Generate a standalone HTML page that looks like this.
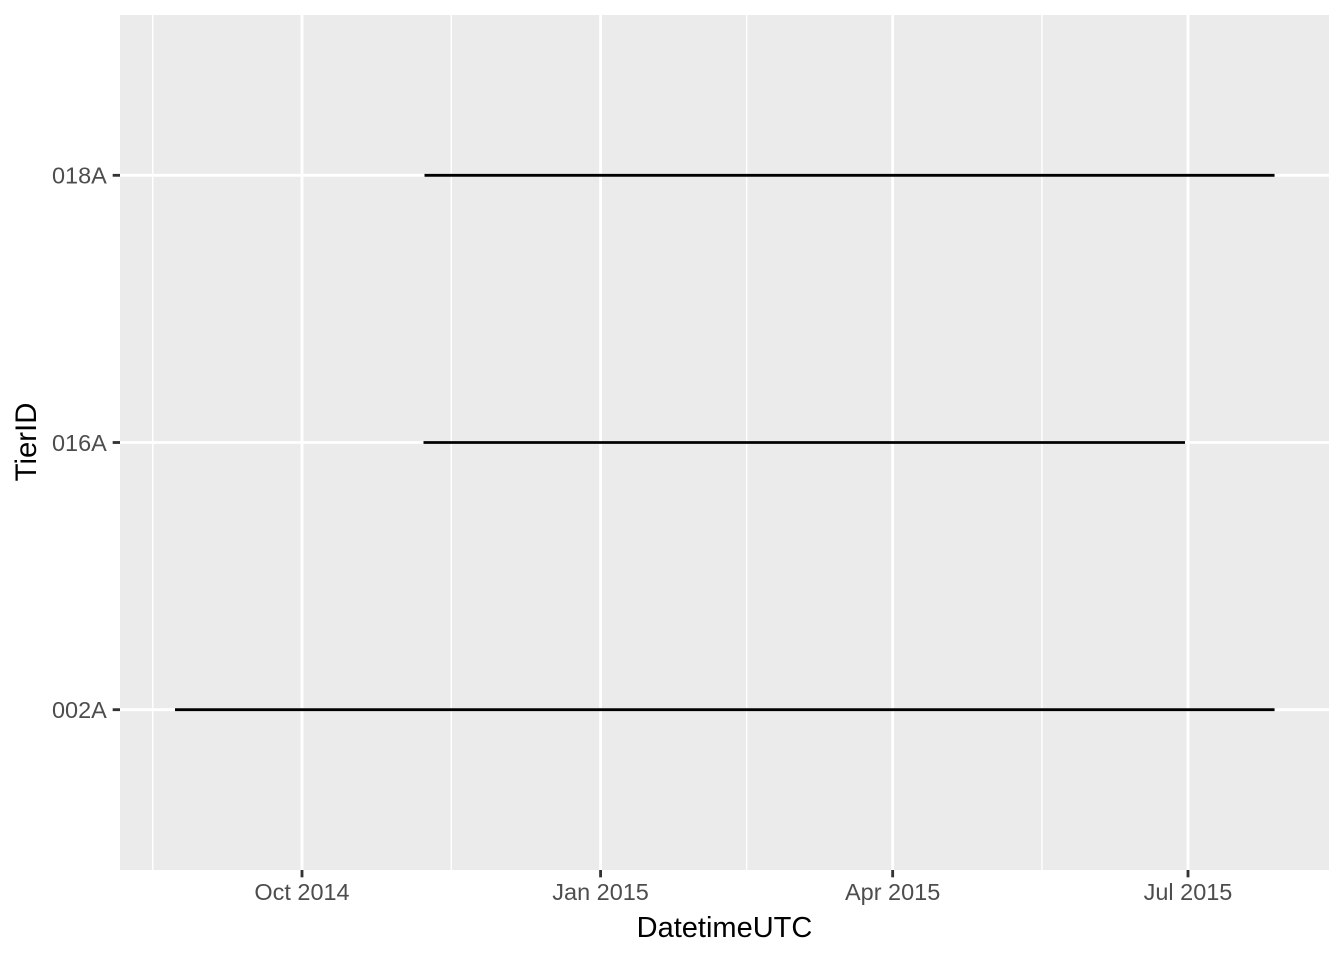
<!DOCTYPE html>
<html>
<head>
<meta charset="utf-8">
<title>TierID timeline</title>
<style>
html,body{margin:0;padding:0;background:#fff;}
svg{display:block;font-family:"Liberation Sans",Arial,sans-serif;}
</style>
</head>
<body>
<svg id="chart" xmlns="http://www.w3.org/2000/svg" width="1344" height="960" viewBox="0 0 1344 960">
<rect x="0" y="0" width="1344" height="960" fill="#ffffff"/>
<rect x="120" y="15" width="1209" height="855" fill="#EBEBEB"/>
<g id="grid"></g>
<g id="marks"></g>
<g id="axes"></g>
<text x="724.5" y="937" font-size="29" fill="#000" text-anchor="middle">DatetimeUTC</text>
<text transform="translate(36 442) rotate(-90)" font-size="29.33" fill="#000" text-anchor="middle">TierID</text>
</svg>
<script>
const categories = ['002A', '016A', '018A'];
const seriesStart = ['2014-08-22T21:00Z', '2014-11-07T10:30Z', '2014-11-07T18:00Z'];
const seriesEnd = ['2015-07-27T16:00Z', '2015-06-30T02:00Z', '2015-07-27T16:00Z'];
const xTickDates = ['2014-10-01', '2015-01-01', '2015-04-01', '2015-07-01'];
const xTickLabels = ['Oct 2014', 'Jan 2015', 'Apr 2015', 'Jul 2015'];
const xMinorDates = ['2014-08-16', '2014-11-16', '2015-02-15', '2015-05-17'];

const NS = 'http://www.w3.org/2000/svg';
const panel = {left: 120, right: 1329, top: 15, bottom: 870};
const dayMs = 86400000;
const xDomainStart = Date.parse('2014-10-01');
const pxPerDay = 3.2454;
function xScale(d) {
  return 302 + (Date.parse(d) - xDomainStart) / dayMs * pxPerDay;
}
function yScale(i) {
  const step = (panel.bottom - panel.top) / (categories.length - 1 + 1.2);
  return panel.bottom - (0.6 + i) * step;
}
function makeLine(parent, x1, y1, x2, y2, color, width) {
  const l = document.createElementNS(NS, 'line');
  l.setAttribute('x1', x1);
  l.setAttribute('y1', y1);
  l.setAttribute('x2', x2);
  l.setAttribute('y2', y2);
  l.setAttribute('stroke', color);
  l.setAttribute('stroke-width', width);
  parent.appendChild(l);
  return l;
}
function makeText(parent, x, y, str, anchor) {
  const t = document.createElementNS(NS, 'text');
  t.setAttribute('x', x);
  t.setAttribute('y', y);
  t.setAttribute('font-size', '23.47');
  t.setAttribute('fill', '#4D4D4D');
  t.setAttribute('text-anchor', anchor);
  t.textContent = str;
  parent.appendChild(t);
  return t;
}
const grid = document.getElementById('grid');
const marks = document.getElementById('marks');
const axes = document.getElementById('axes');

xMinorDates.forEach(function (d) {
  const x = xScale(d);
  const g = makeLine(grid, x, panel.top, x, panel.bottom, '#FFFFFF', 1.42);
  
  
});
xTickDates.forEach(function (d, i) {
  const x = xScale(d);
  const g = makeLine(grid, x, panel.top, x, panel.bottom, '#FFFFFF', 2.84);
  
  
  const tick = makeLine(axes, x, panel.bottom, x, panel.bottom + 7.33, '#333333', 2.84);
  
  
  const label = makeText(axes, x, 900, xTickLabels[i], 'middle');
  
  
});
categories.forEach(function (c, i) {
  const y = yScale(i);
  const g = makeLine(grid, panel.left, y, panel.right, y, '#FFFFFF', 2.84);
  
  
  const tick = makeLine(axes, panel.left - 7.33, y, panel.left, y, '#333333', 2.84);
  
  
  const label = makeText(axes, 106.8, y + 8.4, c, 'end');
  
  
  const seg = makeLine(marks, xScale(seriesStart[i]), y, xScale(seriesEnd[i]), y, '#000000', 2.84);
  
  
});
</script>
</body>
</html>
